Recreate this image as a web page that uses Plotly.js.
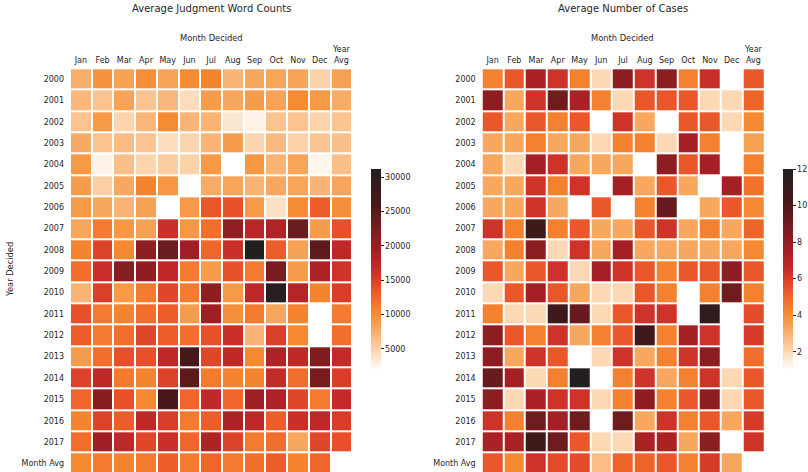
<!DOCTYPE html>
<html>
<head>
<meta charset="utf-8">
<script src="https://cdn.plot.ly/plotly-3.0.1.min.js"></script>
<style>html,body{margin:0;padding:0;background:#fff;}#chart{width:808px;height:472px;}</style>
</head>
<body>
<div id="chart"></div>
<script>
const months = ['Jan','Feb','Mar','Apr','May','Jun','Jul','Aug','Sep','Oct','Nov','Dec','Year Avg'];
const monthTicks = ['Jan','Feb','Mar','Apr','May','Jun','Jul','Aug','Sep','Oct','Nov','Dec','Year<br>Avg'];
const years = ['2000','2001','2002','2003','2004','2005','2006','2007','2008','2009','2010','2011','2012','2013','2014','2015','2016','2017','Month Avg'];

// Average judgment word counts (rows = years, cols = months + year avg)
const wordCounts = [
  [7500, 9500, 8500, 9800, 8300, 10000, 10500, 7000, 8000, 8200, 8300, 5000, 8500],
  [6800, 6000, 8300, 6000, 6800, 4300, 8800, 8100, 8800, 8300, 10000, 9000, 7700],
  [6000, 9000, 4800, 6800, 10000, 7000, 7000, 3600, 2800, 5900, 6000, 4800, 6000],
  [7800, 6000, 6500, 6000, 4200, 4800, 7000, 8800, 4700, 6600, 5000, 6000, 6300],
  [9000, 2700, 6300, 4800, 5300, 5000, 9000, null, 9200, 7000, 8200, 2600, 6300],
  [8800, 5200, 8000, 10500, 9200, null, 7700, 8200, 7200, 8000, 8200, 7000, 8200],
  [9000, 8000, 7000, 8400, null, 9000, 13500, 13700, 9000, 4000, 10000, 13000, 9700],
  [8100, 11200, 9200, 8400, 16300, 9200, 12000, 20500, 17500, 18300, 23500, 8800, 13800],
  [10500, 14700, 10200, 21000, 23500, 19500, 12500, 16300, 31200, 13000, 8400, 24500, 17200],
  [12000, 16300, 21500, 20800, 17000, 11200, 8800, 13800, 11200, 22500, 8800, 18500, 16000],
  [7000, 15000, 9000, 11200, 14500, 11200, 21000, 9000, 17200, 30500, 18000, 10500, 15200],
  [13800, 11200, 10500, 12000, 13000, 8800, 19500, 9700, 11200, 8100, 10500, null, 11200],
  [13000, 11200, 12000, 14500, 13000, 12000, 13800, 16300, 7000, 15000, 10200, null, 12000],
  [8800, 12000, 13800, 13800, 17200, 26500, 14500, 17000, 10200, 18500, 17000, 22000, 16800],
  [14700, 17200, 11200, 10500, 14700, 24500, 11200, 10500, 10500, 16800, 12000, 22500, 15200],
  [12500, 21500, 13800, 10200, 26500, 12500, 17000, 12500, 19500, 18500, 14500, 11200, 16800],
  [10500, 14700, 13000, 17000, 15200, 11200, 13000, 18500, 17200, 13000, 16300, 17200, 15200],
  [12000, 19500, 17200, 14500, 16300, 12500, 18500, 14700, 11200, 12000, 8000, 14500, 13800],
  [10200, 11200, 10500, 11200, 13000, 11200, 12500, 11200, 12000, 13000, 10500, 12500, null]
];

// Average number of cases
const cases = [
  [4.3, 5.3, 7.3, 6.3, 4.3, 2.0, 8.2, 6.3, 8.2, 4.3, 6.5, 1.0, 5.3],
  [8.2, 3.3, 6.3, 9.0, 7.3, 4.3, 2.0, 5.3, 5.3, 5.3, 2.0, 2.0, 5.0],
  [5.3, 3.3, 5.3, 4.3, 5.3, 1.0, 6.3, 3.3, 1.0, 5.3, 5.3, 2.0, 4.1],
  [3.3, 3.3, 4.3, 3.3, 3.3, 2.0, 4.3, 4.3, 2.0, 7.5, 4.3, 1.0, 3.5],
  [3.3, 2.0, 7.5, 6.3, 3.3, 3.3, 3.3, null, 8.2, 5.3, 7.5, 1.0, 4.3],
  [3.3, 3.3, 6.3, 4.3, 6.3, null, 7.5, 3.3, 5.3, 3.3, 1.0, 7.5, 4.7],
  [3.3, 3.3, 6.3, 3.3, null, 5.3, 1.0, 4.3, 9.2, 1.0, 3.3, 5.3, 4.1],
  [6.3, 4.3, 10.5, 4.3, 5.3, 3.3, 3.3, 5.3, 6.3, 3.3, 4.3, 3.3, 5.0],
  [3.3, 4.3, 8.2, 2.0, 6.3, 3.3, 7.5, 3.3, 3.3, 3.3, 3.3, 3.3, 4.1],
  [5.3, 3.3, 5.3, 6.3, 2.0, 7.5, 6.3, 5.3, 4.3, 5.3, 5.3, 8.2, 5.3],
  [2.0, 5.3, 7.5, 5.3, 3.3, 2.0, 2.0, 5.3, 4.3, 1.0, 4.3, 9.0, 4.3],
  [4.3, 2.0, 2.0, 10.5, 9.2, 2.0, 5.3, 6.3, 6.3, 1.0, 11.3, null, 5.6],
  [8.2, 5.3, 4.3, 6.3, 3.3, 4.3, 5.3, 10.5, 4.3, 7.5, 6.3, null, 6.0],
  [8.2, 3.3, 6.3, 5.3, 1.0, 2.0, 6.3, 3.3, 4.3, 6.3, 8.2, 1.0, 4.8],
  [9.2, 7.5, 2.0, 4.3, 12.0, 1.0, 4.3, 6.3, 3.3, 4.3, 6.3, 2.0, 5.3],
  [8.2, 2.0, 7.3, 6.3, 6.3, 2.0, 4.3, 8.2, 4.3, 5.3, 8.2, 2.0, 5.3],
  [6.3, 4.3, 9.0, 7.5, 9.0, 1.0, 9.0, 3.3, 6.3, 4.3, 5.3, 3.3, 6.0],
  [7.3, 7.3, 10.5, 9.0, 5.3, 2.0, 2.0, 7.3, 7.3, 3.3, 8.2, 1.0, 6.3],
  [5.3, 4.1, 6.3, 5.6, 5.6, 2.7, 5.0, 5.0, 5.3, 4.3, 6.0, 3.3, null]
];

const scale = [
  [0.00, '#ffffff'],
  [0.04, '#fdeedd'],
  [0.10, '#fcd4ad'],
  [0.17, '#f9b679'],
  [0.23, '#f69f50'],
  [0.28, '#f58a31'],
  [0.34, '#f2702c'],
  [0.40, '#e9532a'],
  [0.46, '#d6392a'],
  [0.52, '#bf2828'],
  [0.60, '#a01f24'],
  [0.68, '#821d21'],
  [0.76, '#621b1d'],
  [0.85, '#431819'],
  [1.00, '#231f20']
];

const txt = '#262626';
const font = {family: 'DejaVu Sans', size: 8, color: txt};

function cbar(x, tv) {
  return {x: x, xanchor: 'left', xpad: 0, y: 1 - 269.5/472, yanchor: 'middle', ypad: 0,
    len: 201, lenmode: 'pixels', thickness: 10, outlinewidth: 0,
    ticks: 'outside', ticklen: 3, tickwidth: 1, tickcolor: txt, tickvals: tv,
    tickformat: 'd', tickfont: font};
}

const traces = [
  {type: 'heatmap', x: months, y: years, z: wordCounts, xaxis: 'x', yaxis: 'y',
   colorscale: scale, zmin: 1900, zmax: 31200, xgap: 2, ygap: 2, hoverongaps: false,
   colorbar: cbar(371/808, [5000, 10000, 15000, 20000, 25000, 30000])},
  {type: 'heatmap', x: months, y: years, z: cases, xaxis: 'x2', yaxis: 'y2',
   colorscale: scale, zmin: 1, zmax: 12, xgap: 2, ygap: 2, hoverongaps: false,
   colorbar: cbar(782.7/808, [2, 4, 6, 8, 10, 12])}
];

const xa = {side: 'top', showgrid: false, zeroline: false, showline: false, ticks: '',
  tickfont: font, type: 'category', tickvals: months, ticktext: monthTicks,
  range: [-0.5, 12.5], fixedrange: true, ticklabelstandoff: 3};
const ya = {showgrid: false, zeroline: false, showline: false, ticks: '', tickfont: font,
  type: 'category', range: [18.4, -0.5], autorange: false, domain: [0, (472-68.3)/472],
  fixedrange: true, ticklabelstandoff: 5};

const layout = {
  width: 808, height: 472,
  margin: {l: 0, r: 0, t: 0, b: 0},
  paper_bgcolor: '#ffffff', plot_bgcolor: '#ffffff',
  font: {family: 'DejaVu Sans', color: txt},
  xaxis: Object.assign({}, xa, {domain: [70/808, 352.3/808], anchor: 'y'}),
  yaxis: Object.assign({}, ya, {anchor: 'x'}),
  xaxis2: Object.assign({}, xa, {domain: [481.7/808, 764.3/808], anchor: 'y2'}),
  yaxis2: Object.assign({}, ya, {anchor: 'x2'}),
  annotations: [
    {text: 'Average Judgment Word Counts', x: 211/808, y: 1 - 9/472, xref: 'paper', yref: 'paper',
     showarrow: false, xanchor: 'center', yanchor: 'middle', font: {family: 'DejaVu Sans', size: 10, color: txt}},
    {text: 'Average Number of Cases', x: 622.7/808, y: 1 - 9/472, xref: 'paper', yref: 'paper',
     showarrow: false, xanchor: 'center', yanchor: 'middle', font: {family: 'DejaVu Sans', size: 10, color: txt}},
    {text: 'Month Decided', x: 211/808, y: 1 - 37.7/472, xref: 'paper', yref: 'paper',
     showarrow: false, xanchor: 'center', yanchor: 'middle', font: {family: 'DejaVu Sans', size: 8.3, color: txt}},
    {text: 'Month Decided', x: 622.7/808, y: 1 - 37.7/472, xref: 'paper', yref: 'paper',
     showarrow: false, xanchor: 'center', yanchor: 'middle', font: {family: 'DejaVu Sans', size: 8.3, color: txt}},
    {text: 'Year Decided', x: 10/808, y: 1 - 270/472, xref: 'paper', yref: 'paper', textangle: -90,
     showarrow: false, xanchor: 'center', yanchor: 'middle', font: {family: 'DejaVu Sans', size: 8.3, color: txt}}
  ]
};

Plotly.newPlot('chart', traces, layout, {displayModeBar: false, staticPlot: true});
</script>
</body>
</html>
